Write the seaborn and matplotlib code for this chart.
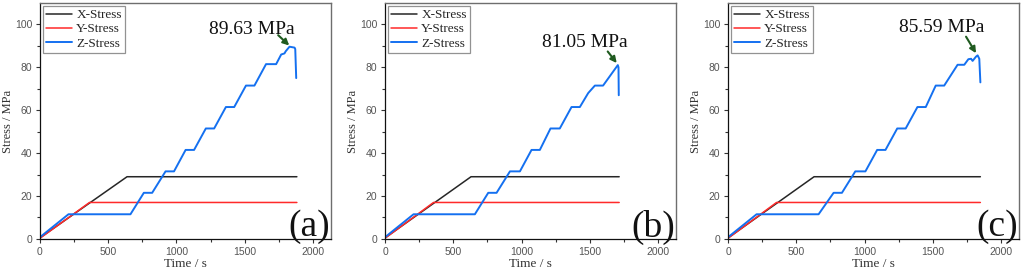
import matplotlib
matplotlib.use("Agg")
import matplotlib.pyplot as plt
import seaborn as sns

# ---- data ----
panel_labels = ["(a)", "(b)", "(c)"]
peak_labels = ["89.63 MPa", "81.05 MPa", "85.59 MPa"]

# panel (a)
a_x_time = [0, 638, 1882]
a_x_stress = [0.5, 29, 29]
a_y_time = [0, 363, 1882]
a_y_stress = [0.3, 17, 17]
a_z_time = [0, 209, 663, 761, 822, 920, 982, 1067, 1129, 1215, 1276, 1362, 1423,
            1509, 1571, 1656, 1730, 1767, 1791, 1800, 1828, 1865, 1870, 1877]
a_z_stress = [0.8, 11.5, 11.5, 21.5, 21.5, 31.5, 31.5, 41.5, 41.5, 51.5, 51.5, 61.5, 61.5,
              71.5, 71.5, 81.5, 81.5, 86, 86.5, 87.5, 89.63, 89.2, 88.5, 75]

# panel (b)
b_x_time = [0, 630, 1715]
b_x_stress = [0.5, 29, 29]
b_y_time = [0, 355, 1715]
b_y_stress = [0.3, 17, 17]
b_z_time = [0, 209, 658, 756, 817, 915, 988, 1073, 1134, 1212, 1280, 1366, 1427,
            1488, 1537, 1597, 1705, 1710, 1712]
b_z_stress = [0.8, 11.5, 11.5, 21.5, 21.5, 31.5, 31.5, 41.5, 41.5, 51.5, 51.5, 61.5, 61.5,
              68, 71.5, 71.5, 81.05, 80, 67]

# panel (c)
c_x_time = [0, 630, 1848]
c_x_stress = [0.5, 29, 29]
c_y_time = [0, 355, 1848]
c_y_stress = [0.3, 17, 17]
c_z_time = [0, 209, 663, 773, 834, 932, 1006, 1092, 1153, 1239, 1301, 1387, 1448,
            1521, 1583, 1681, 1730, 1760, 1780, 1791, 1816, 1828, 1840, 1848]
c_z_stress = [0.8, 11.5, 11.5, 21.5, 21.5, 31.5, 31.5, 41.5, 41.5, 51.5, 51.5, 61.5, 61.5,
              71.5, 71.5, 81.2, 81.2, 83.8, 84, 83, 85, 85.59, 84, 73]

# arrow (start, tip) and label centre per panel, in data coords
arrow_start = [(1745, 95), (1631, 87.4), (1743, 94.3)]
arrow_tip = [(1826, 90.2), (1697, 82.0), (1816, 86.6)]
text_pos = [(1553, 97.8), (1463, 91.8), (1566, 98.7)]

panels = [
    (a_x_time, a_x_stress, a_y_time, a_y_stress, a_z_time, a_z_stress),
    (b_x_time, b_x_stress, b_y_time, b_y_stress, b_z_time, b_z_stress),
    (c_x_time, c_x_stress, c_y_time, c_y_stress, c_z_time, c_z_stress),
]

sns.set_style("ticks")
plt.rcParams["font.family"] = ["Liberation Serif", "DejaVu Serif"]

fig = plt.figure(figsize=(10.24, 2.74), dpi=100)
lefts = [0.039, 0.376, 0.711]
width = 0.284

for i, (xt, xs, yt, ys, zt, zs) in enumerate(panels):
    ax = fig.add_axes([lefts[i], 0.128, width, 0.861])
    sns.lineplot(x=xt, y=xs, ax=ax, color="#262626", lw=1.1, sort=False,
                 estimator=None, label="X-Stress")
    sns.lineplot(x=yt, y=ys, ax=ax, color="#ff2a2a", lw=1.1, sort=False,
                 estimator=None, label="Y-Stress")
    sns.lineplot(x=zt, y=zs, ax=ax, color="#1470f0", lw=1.4, sort=False,
                 estimator=None, label="Z-Stress")

    ax.set_xlim(0, 2130)
    ax.set_ylim(0, 110)
    ax.set_xticks([0, 500, 1000, 1500, 2000])
    ax.set_xticks([250, 750, 1250, 1750], minor=True)
    ax.set_yticks([0, 20, 40, 60, 80, 100])
    ax.set_yticks([10, 30, 50, 70, 90], minor=True)
    ax.tick_params(which="both", direction="out", color="#333333", width=0.8)
    ax.tick_params(which="major", length=3, pad=2.5, labelsize=7.5, labelcolor="#555555")
    ax.tick_params(which="minor", length=2)
    for lab in ax.get_xticklabels() + ax.get_yticklabels():
        lab.set_fontfamily("Liberation Sans")

    for side in ["left", "bottom"]:
        ax.spines[side].set_color("#111111")
        ax.spines[side].set_linewidth(0.9)
    for side in ["top", "right"]:
        ax.spines[side].set_visible(True)
        ax.spines[side].set_color("#6e6e6e")
        ax.spines[side].set_linewidth(1.0)

    ax.set_xlabel("Time / s", fontsize=9.5, color="#333333", labelpad=1)
    ax.set_ylabel("Stress / MPa", fontsize=9, color="#333333", labelpad=1)

    leg = ax.legend(loc="upper left", fontsize=9.5, frameon=True, fancybox=False,
                    handlelength=2.0, borderpad=0.25, labelspacing=0.15,
                    borderaxespad=0.2, handletextpad=0.3)
    leg.get_frame().set_edgecolor("#777777")
    leg.get_frame().set_linewidth(0.9)

    ax.annotate("", xy=arrow_tip[i], xytext=arrow_start[i],
                arrowprops=dict(arrowstyle="-|>", color="#1f5a1f", lw=1.5,
                                mutation_scale=9, shrinkA=0, shrinkB=0))
    ax.text(text_pos[i][0], text_pos[i][1], peak_labels[i], fontsize=14,
            ha="center", va="center", color="#111111")
    ax.text(0.997, 0.05, panel_labels[i], transform=ax.transAxes, fontsize=27,
            ha="right", va="center", color="#111111")

fig.savefig("out.png", dpi=100)
